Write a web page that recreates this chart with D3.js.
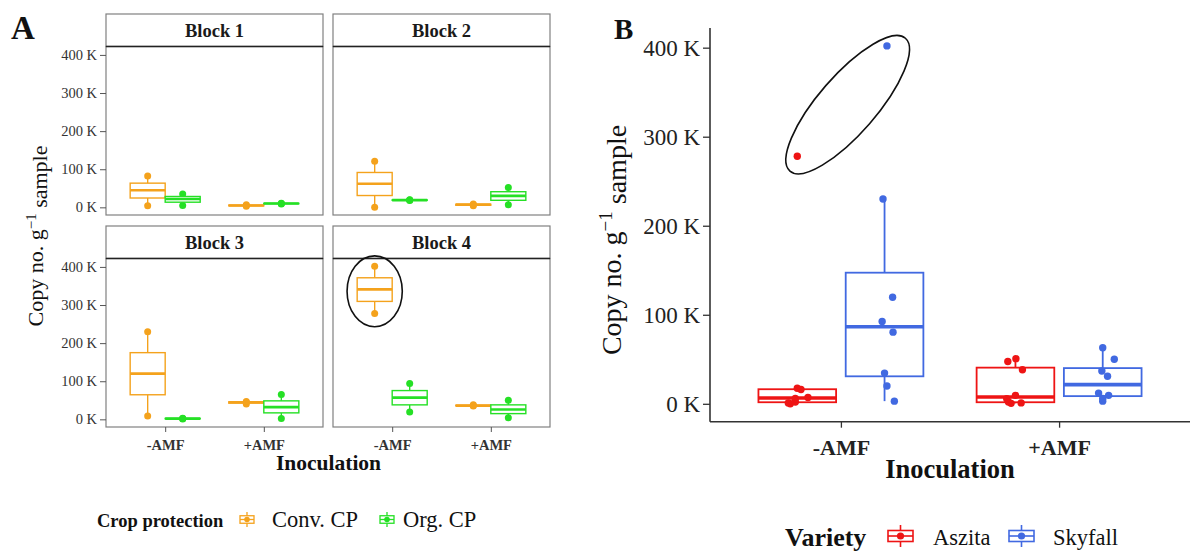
<!DOCTYPE html>
<html><head><meta charset="utf-8">
<script src="https://cdn.jsdelivr.net/npm/d3@7"></script>
<style>
body{margin:0;background:#fff;}
svg{display:block;font-family:"Liberation Serif","Times New Roman",serif;}
</style>
</head><body>
<svg id="c" width="1192" height="554"></svg>
<script>
// ---------- DATA (values in thousands of copies) ----------
const blocks = ["Block 1", "Block 2", "Block 3", "Block 4"];
const inoculation = ["-AMF", "+AMF"];
const cropProtection = ["Conv. CP", "Org. CP"];
const yTicks = [0, 100, 200, 300, 400];
// Panel A: three replicates per block
const convMinus = [[4, 45, 82], [0, 62, 121], [9, 120, 230], [278, 341, 402]];
const orgMinus  = [[5, 22, 35], [18, 19, 20], [1, 2, 3], [19, 57, 94]];
const convPlus  = [[3, 5, 7], [4, 7, 9], [40, 45, 47], [35, 36, 38]];
const orgPlus   = [[9, 10, 11], [7, 30, 52], [2, 32, 65], [4, 26, 50]];
// Panel B
const varieties = ["Aszita", "Skyfall"];
const aszitaMinus  = [0, 1, 2, 6, 7, 16, 17.5, 278];
const skyfallMinus = [3, 20, 34.5, 80.5, 92.5, 119.7, 230, 402];
const aszitaPlus   = [0.5, 1, 2, 5.8, 9.5, 38.3, 47.6, 50.7];
const skyfallPlus  = [3, 6, 9.5, 12, 31, 36.8, 50, 63];
// horizontal jitter of points (category units)
const aszitaMinusJit  = [-0.032, -0.041, -0.009, -0.009, 0.049, 0.017, 0, 0];
const skyfallMinusJit = [0.045, 0.011, 0, 0.039, -0.011, 0.037, -0.007, 0.011];
const aszitaPlusJit   = [-0.02, 0.026, -0.032, -0.04, 0, 0.032, -0.035, 0.002];
const skyfallPlusJit  = [0, 0, 0.027, -0.019, 0.022, -0.004, 0.053, 0];

// ---------- STYLE ----------
const cpColors = ["#F4A21C", "#25E025"];
const varColors = ["#EE1414", "#4169E1"];
const svg = d3.select("#c");
svg.append("rect").attr("width", 1192).attr("height", 554).attr("fill", "#fff");

const allVals = [convMinus, orgMinus, convPlus, orgPlus].flat(2)
  .concat(aszitaMinus, skyfallMinus, aszitaPlus, skyfallPlus);
const vmin = d3.min(allVals), vmax = d3.max(allVals);
const yDom = [vmin - 0.05 * (vmax - vmin), vmax + 0.05 * (vmax - vmin)];
const fmt = d => d + " K";

function stats(vals) {
  const s = vals.slice().sort(d3.ascending);
  const q1 = d3.quantile(s, 0.25), med = d3.quantile(s, 0.5), q3 = d3.quantile(s, 0.75);
  const iqr = q3 - q1;
  return {
    q1, med, q3,
    lo: d3.min(s.filter(v => v >= q1 - 1.5 * iqr)),
    hi: d3.max(s.filter(v => v <= q3 + 1.5 * iqr))
  };
}
function drawBox(g, xc, w, vals, y, color, lw, mlw) {
  const s = stats(vals);
  g.append("line").attr("x1", xc).attr("x2", xc).attr("y1", y(s.hi)).attr("y2", y(s.q3))
    .attr("stroke", color).attr("stroke-width", lw);
  g.append("line").attr("x1", xc).attr("x2", xc).attr("y1", y(s.q1)).attr("y2", y(s.lo))
    .attr("stroke", color).attr("stroke-width", lw);
  g.append("rect").attr("x", xc - w / 2).attr("width", w)
    .attr("y", y(s.q3)).attr("height", Math.max(0, y(s.q1) - y(s.q3)))
    .attr("fill", "#fff").attr("stroke", color).attr("stroke-width", lw);
  g.append("line").attr("x1", xc - w / 2).attr("x2", xc + w / 2).attr("y1", y(s.med)).attr("y2", y(s.med))
    .attr("stroke", color).attr("stroke-width", mlw);
}
function legendKey(g, x0, y0, w, h, color, lw, r) {
  const xc = x0 + w / 2;
  g.append("line").attr("x1", xc).attr("x2", xc).attr("y1", y0).attr("y2", y0 + h)
    .attr("stroke", color).attr("stroke-width", lw);
  g.append("rect").attr("x", x0).attr("y", y0 + h * 0.25).attr("width", w).attr("height", h * 0.5)
    .attr("fill", "#fff").attr("stroke", color).attr("stroke-width", lw);
  g.append("line").attr("x1", x0).attr("x2", x0 + w).attr("y1", y0 + h / 2).attr("y2", y0 + h / 2)
    .attr("stroke", color).attr("stroke-width", lw);
  g.append("circle").attr("cx", xc).attr("cy", y0 + h / 2).attr("r", r).attr("fill", color);
}

// ================= PANEL A =================
const A = svg.append("g");
A.append("text").attr("x", 11).attr("y", 39).attr("font-size", 33).attr("font-weight", "bold")
  .attr("fill", "#111").text("A");
const facetX = [106, 333], facetW = 217;
const rowsTop = [14, 226], stripH = 32.5, plotH = 168.5;
const dodgeA = 0.1775, boxWA = 0.355;
const annotA = [{ block: 3, inoc: 0, cp: 0, value: 336, rx: 0.28, ry: 93 }];

blocks.forEach((b, i) => {
  const col = i % 2, row = Math.floor(i / 2);
  const x0 = facetX[col], st = rowsTop[row], pt = st + stripH, pb = pt + plotH;
  const x = d3.scaleLinear().domain([0.4, 2.6]).range([x0, x0 + facetW]);
  const y = d3.scaleLinear().domain(yDom).range([pb, pt]);
  const g = A.append("g");
  // strip
  g.append("rect").attr("x", x0).attr("y", st).attr("width", facetW).attr("height", stripH)
    .attr("fill", "#fff").attr("stroke", "#808080").attr("stroke-width", 1.2);
  g.append("text").attr("x", x0 + facetW / 2).attr("y", st + stripH / 2 + 6.5)
    .attr("text-anchor", "middle").attr("font-size", 18.5).attr("font-weight", "bold")
    .attr("fill", "#1a1a1a").text(b);
  // panel
  g.append("rect").attr("x", x0).attr("y", pt).attr("width", facetW).attr("height", plotH)
    .attr("fill", "#fff").attr("stroke", "#808080").attr("stroke-width", 1.2);
  g.append("line").attr("x1", x0).attr("x2", x0 + facetW).attr("y1", pt).attr("y2", pt)
    .attr("stroke", "#222").attr("stroke-width", 1.3);
  const groups = [
    { inoc: 0, cp: 0, vals: convMinus[i] }, { inoc: 0, cp: 1, vals: orgMinus[i] },
    { inoc: 1, cp: 0, vals: convPlus[i] }, { inoc: 1, cp: 1, vals: orgPlus[i] }
  ];
  groups.forEach(gr => {
    const xc = x(gr.inoc + 1 + (gr.cp === 0 ? -dodgeA : dodgeA));
    const c = cpColors[gr.cp];
    g.selectAll(null).data(gr.vals).join("circle")
      .attr("cx", xc).attr("cy", d => y(d)).attr("r", 3.5).attr("fill", c);
    drawBox(g, xc, boxWA * (x(2) - x(1)), gr.vals, y, c, 1.4, 2.6);
  });
  annotA.filter(a => a.block === i).forEach(a => {
    const u = x(2) - x(1);
    g.append("ellipse").attr("cx", x(a.inoc + 1 + (a.cp === 0 ? -dodgeA : dodgeA)))
      .attr("cy", y(a.value)).attr("rx", a.rx * u).attr("ry", y(0) - y(a.ry))
      .attr("fill", "none").attr("stroke", "#111").attr("stroke-width", 1.6);
  });
  if (col === 0) {
    const ax = g.append("g").attr("transform", `translate(${x0},0)`)
      .call(d3.axisLeft(y).tickValues(yTicks).tickFormat(fmt).tickSize(6).tickPadding(3));
    ax.select(".domain").remove();
    ax.selectAll("line").attr("stroke", "#555");
    ax.selectAll("text").attr("font-family", "Liberation Serif").attr("font-size", 14.5).attr("fill", "#333");
  }
  if (row === 1) {
    const ax = g.append("g").attr("transform", `translate(0,${pb})`)
      .call(d3.axisBottom(x).tickValues([1, 2]).tickFormat(d => inoculation[d - 1]).tickSize(5).tickPadding(8));
    ax.select(".domain").remove();
    ax.selectAll("line").attr("stroke", "#555");
    ax.selectAll("text").attr("font-family", "Liberation Serif").attr("font-size", 14.5)
      .attr("font-weight", "bold").attr("fill", "#333");
  }
});
A.append("text").attr("x", 328.5).attr("y", 470).attr("text-anchor", "middle")
  .attr("font-size", 21.5).attr("font-weight", "bold").attr("fill", "#111").text("Inoculation");
const ytA = A.append("text").attr("transform", "translate(43,236) rotate(-90)")
  .attr("text-anchor", "middle").attr("font-size", 22).attr("fill", "#111");
ytA.append("tspan").text("Copy no. g");
ytA.append("tspan").attr("dy", "-0.5em").attr("font-size", 15).text("\u22121");
ytA.append("tspan").attr("dy", "0.5em").text(" sample");
// legend A
A.append("text").attr("x", 97).attr("y", 527).attr("font-size", 18.5).attr("font-weight", "bold")
  .attr("fill", "#111").text("Crop protection");
const legA = [{ x: 240, tx: 272 }, { x: 380, tx: 403 }];
cropProtection.forEach((c, k) => {
  legendKey(A, legA[k].x, 512, 14, 15, cpColors[k], 1.3, 2.8);
  A.append("text").attr("x", legA[k].tx).attr("y", 527).attr("font-size", 22.5).attr("fill", "#111").text(c);
});

// ================= PANEL B =================
const B = svg.append("g");
B.append("text").attr("x", 614).attr("y", 39).attr("font-size", 29).attr("font-weight", "bold")
  .attr("fill", "#111").text("B");
const bx0 = 710, bx1 = 1190, bTop = 28, bBot = 421.7;
const xB = d3.scaleLinear().domain([0.4, 2.6]).range([bx0, bx1]);
const yB = d3.scaleLinear().domain(yDom).range([bBot, bTop]);
const dodgeB = 0.2, boxWB = 0.356;
const groupsB = [
  { inoc: 0, v: 0, vals: aszitaMinus, jit: aszitaMinusJit },
  { inoc: 0, v: 1, vals: skyfallMinus, jit: skyfallMinusJit },
  { inoc: 1, v: 0, vals: aszitaPlus, jit: aszitaPlusJit },
  { inoc: 1, v: 1, vals: skyfallPlus, jit: skyfallPlusJit }
];
groupsB.forEach(gr => {
  const pos = gr.inoc + 1 + (gr.v === 0 ? -dodgeB : dodgeB);
  const c = varColors[gr.v];
  drawBox(B, xB(pos), boxWB * (xB(2) - xB(1)), gr.vals, yB, c, 1.8, 3.6);
  B.selectAll(null).data(gr.vals).join("circle")
    .attr("cx", (d, k) => xB(pos + gr.jit[k])).attr("cy", d => yB(d)).attr("r", 3.7).attr("fill", c);
});
// annotation ellipse around the two extreme points (-AMF)
const annotB = { inoc: 0, offset: 0.031, value: 336, rx: 88, ry: 29, angle: -49 };
const ecx = xB(annotB.inoc + 1 + annotB.offset), ecy = yB(annotB.value);
B.append("ellipse").attr("cx", ecx).attr("cy", ecy).attr("rx", annotB.rx).attr("ry", annotB.ry)
  .attr("transform", `rotate(${annotB.angle},${ecx},${ecy})`)
  .attr("fill", "none").attr("stroke", "#111").attr("stroke-width", 1.6);
// axes
const axYB = B.append("g").attr("transform", `translate(${bx0},0)`)
  .call(d3.axisLeft(yB).tickValues(yTicks).tickFormat(fmt).tickSize(7).tickPadding(3));
axYB.select(".domain").remove();
axYB.selectAll("line").attr("stroke", "#333").attr("stroke-width", 1.3);
axYB.selectAll("text").attr("font-family", "Liberation Serif").attr("font-size", 23).attr("fill", "#222");
const axXB = B.append("g").attr("transform", `translate(0,${bBot})`)
  .call(d3.axisBottom(xB).tickValues([1, 2]).tickFormat(d => inoculation[d - 1]).tickSize(6).tickPadding(12));
axXB.select(".domain").remove();
axXB.selectAll("line").attr("stroke", "#333").attr("stroke-width", 1.3);
axXB.selectAll("text").attr("font-family", "Liberation Serif").attr("font-size", 22)
  .attr("font-weight", "bold").attr("fill", "#222");
B.append("line").attr("x1", bx0).attr("x2", bx0).attr("y1", bTop).attr("y2", bBot)
  .attr("stroke", "#333").attr("stroke-width", 1.6);
B.append("line").attr("x1", bx0).attr("x2", bx1).attr("y1", bBot).attr("y2", bBot)
  .attr("stroke", "#333").attr("stroke-width", 1.6);
B.append("text").attr("x", (bx0 + bx1) / 2).attr("y", 478).attr("text-anchor", "middle")
  .attr("font-size", 26.5).attr("font-weight", "bold").attr("fill", "#111").text("Inoculation");
const ytB = B.append("text").attr("transform", "translate(621,240) rotate(-90)")
  .attr("text-anchor", "middle").attr("font-size", 28).attr("fill", "#111");
ytB.append("tspan").text("Copy no. g");
ytB.append("tspan").attr("dy", "-0.5em").attr("font-size", 19).text("\u22121");
ytB.append("tspan").attr("dy", "0.5em").text(" sample");
// legend B
B.append("text").attr("x", 785).attr("y", 546).attr("font-size", 26).attr("font-weight", "bold")
  .attr("fill", "#111").text("Variety");
const legB = [{ x: 888, tx: 933 }, { x: 1009, tx: 1053 }];
varieties.forEach((v, k) => {
  legendKey(B, legB[k].x, 525, 25, 22, varColors[k], 1.6, 3.6);
  B.append("text").attr("x", legB[k].tx).attr("y", 545).attr("font-size", 22.5).attr("fill", "#111").text(v);
});
</script>
</body></html>
